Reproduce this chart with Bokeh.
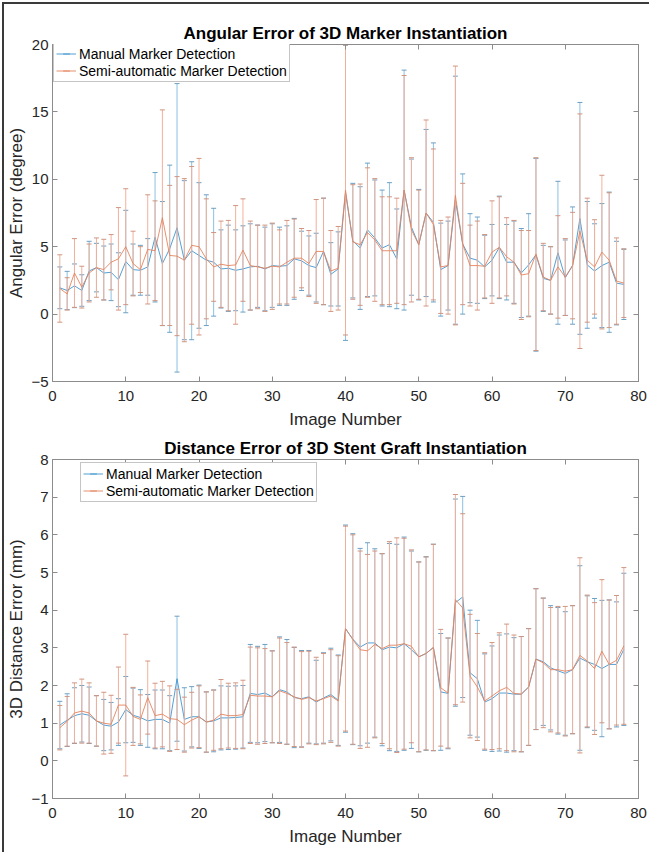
import math
from bokeh.plotting import figure
from bokeh.models import (ColumnDataSource, Range1d, FixedTicker, LinearAxis,
                          Legend, LegendItem)
from bokeh.layouts import column
from bokeh.embed import file_html
from bokeh.resources import INLINE

# ---- data -----------------------------------------------------------------
image_number = list(range(1, 79))

angular_manual_mean = [
    1.95, 1.75, 2.1, 1.75, 3.2, 3.45, 3.05, 3.1, 2.55, 3.9,
    3.3, 3.25, 3.5, 5.7, 3.75, 4.85, 6.4, 4.0, 4.7, 4.35,
    4.0, 3.85, 3.35, 3.4, 3.25, 3.35, 3.5, 3.55, 3.35, 3.6,
    3.55, 3.6, 4.1, 3.95, 3.6, 3.45, 4.65, 2.95, 3.35, 9.0,
    5.45, 4.9, 6.25, 5.65, 4.9, 5.15, 4.1, 9.2, 6.45, 5.15,
    7.5, 6.8, 3.3, 3.6, 8.45, 5.2, 4.15, 4.0, 3.5, 4.0,
    4.95, 3.85, 3.85, 3.05, 3.65, 4.4, 2.65, 2.5, 4.55, 2.7,
    3.6, 7.1, 3.65, 3.2, 3.6, 3.85, 2.3, 2.2]
angular_manual_std = [
    1.55, 1.42, 1.62, 1.17, 2.2, 1.8, 2.0, 2.1, 2.0, 3.8,
    1.9, 1.85, 2.1, 4.8, 4.6, 6.2, 10.7, 5.9, 6.6, 5.4,
    4.85, 4.0, 2.9, 3.2, 3.0, 3.2, 3.2, 3.05, 3.1, 3.1,
    2.9, 2.95, 3.0, 2.2, 2.2, 2.55, 3.95, 2.35, 2.75, 10.95,
    4.25, 4.55, 4.95, 4.3, 4.3, 4.6, 3.7, 8.9, 5.05, 4.1,
    6.2, 5.9, 3.45, 3.3, 9.2, 5.2, 3.3, 3.2, 2.35, 2.65,
    3.8, 2.8, 3.05, 3.3, 3.8, 7.15, 2.45, 2.5, 5.3, 2.8,
    4.35, 8.6, 4.7, 3.5, 4.6, 5.2, 3.1, 2.6]
angular_semi_mean = [
    1.9, 1.5, 3.05, 2.0, 3.05, 3.45, 3.3, 3.85, 4.1, 5.0,
    3.75, 3.3, 4.8, 4.7, 7.15, 4.35, 4.3, 4.0, 5.1, 5.0,
    4.1, 3.5, 3.7, 3.6, 3.65, 4.75, 3.6, 3.5, 3.4, 3.55,
    3.5, 3.85, 4.15, 4.15, 3.75, 4.65, 4.65, 3.2, 3.4, 9.2,
    5.35, 5.15, 6.05, 5.5, 4.7, 4.7, 4.7, 9.2, 6.25, 5.15,
    7.5, 6.65, 3.5, 3.6, 8.8, 5.2, 3.6, 3.6, 3.55, 4.6,
    4.95, 4.25, 3.85, 2.9, 3.0, 4.45, 2.75, 2.5, 3.5, 2.75,
    3.6, 6.15, 4.0, 3.5, 4.6, 4.0, 2.45, 2.3]
angular_semi_std = [
    2.5, 1.2, 2.55, 1.55, 2.15, 2.2, 2.25, 2.05, 3.8, 4.3,
    2.4, 1.7, 4.05, 3.7, 8.0, 5.2, 5.9, 6.05, 5.85, 6.55,
    4.45, 2.55, 3.2, 3.35, 4.4, 3.8, 3.3, 3.1, 3.2, 3.2,
    2.75, 3.1, 2.9, 2.2, 2.45, 3.85, 3.95, 3.0, 3.1, 10.75,
    4.25, 4.5, 4.8, 4.55, 4.0, 4.0, 3.9, 8.5, 5.35, 4.05,
    6.9, 5.6, 3.45, 3.6, 9.6, 4.5, 3.0, 3.3, 2.35, 3.8,
    3.75, 2.9, 3.1, 3.3, 3.2, 7.15, 2.5, 2.5, 3.8, 2.85,
    3.95, 8.7, 4.6, 3.5, 5.7, 5.0, 3.2, 2.55]

distance_manual_mean = [
    0.95, 1.08, 1.2, 1.25, 1.21, 1.06, 0.95, 0.92, 1.03, 1.36,
    1.21, 1.15, 1.06, 1.1, 1.1, 1.0, 2.18, 1.1, 1.17, 1.17,
    1.03, 1.06, 1.14, 1.14, 1.15, 1.17, 1.79, 1.76, 1.8, 1.7,
    1.89, 1.83, 1.68, 1.65, 1.7, 1.56, 1.67, 1.76, 1.61, 3.51,
    3.23, 3.02, 3.13, 3.13, 2.95, 3.02, 3.0, 3.11, 2.95, 2.76,
    2.85, 3.01, 1.83, 1.79, 4.2, 4.35, 2.34, 2.18, 1.56, 1.65,
    1.8, 1.8, 1.77, 1.77, 1.96, 2.7, 2.63, 2.47, 2.39, 2.32,
    2.42, 2.73, 2.63, 2.56, 2.45, 2.56, 2.56, 2.96]
distance_manual_std = [
    0.63, 0.7, 0.74, 0.75, 0.75, 0.67, 0.68, 0.63, 0.62, 0.88,
    0.72, 0.74, 0.7, 0.78, 0.78, 0.73, 1.66, 0.84, 0.8, 0.84,
    0.8, 0.82, 0.85, 0.84, 0.84, 0.83, 1.3, 1.28, 1.29, 1.22,
    1.4, 1.39, 1.33, 1.28, 1.23, 1.11, 1.2, 1.23, 1.2, 2.75,
    2.8, 2.62, 2.66, 2.5, 2.55, 2.75, 2.75, 2.83, 2.62, 2.52,
    2.57, 2.74, 1.55, 1.47, 2.75, 2.67, 1.66, 1.55, 1.28, 1.4,
    1.54, 1.57, 1.5, 1.53, 1.55, 1.87, 1.69, 1.65, 1.68, 1.64,
    1.7, 2.45, 1.75, 1.75, 1.81, 1.71, 1.66, 2.02]
distance_semi_mean = [
    0.88, 1.05, 1.27, 1.32, 1.27, 1.06, 1.0, 0.97, 1.48, 1.48,
    1.18, 1.1, 1.68, 1.2, 1.24, 1.12, 1.1, 0.96, 1.08, 1.17,
    1.03, 1.08, 1.24, 1.2, 1.2, 1.23, 1.74, 1.72, 1.72, 1.7,
    1.86, 1.79, 1.7, 1.63, 1.68, 1.59, 1.65, 1.72, 1.59, 3.51,
    3.22, 2.95, 2.92, 3.09, 2.98, 3.07, 3.07, 3.11, 3.04, 2.76,
    2.85, 3.01, 1.94, 1.8, 4.28, 4.06, 2.25, 1.96, 1.59, 1.72,
    1.86, 1.95, 1.79, 1.77, 1.96, 2.7, 2.6, 2.42, 2.42, 2.38,
    2.42, 2.8, 2.65, 2.45, 2.91, 2.56, 2.67, 3.05]
distance_semi_std = [
    0.59, 0.66, 0.8, 0.85, 0.8, 0.67, 0.82, 0.77, 1.01, 1.88,
    0.77, 0.65, 0.97, 0.86, 0.87, 0.87, 0.8, 0.73, 0.74, 0.82,
    0.8, 0.8, 0.92, 0.86, 0.87, 0.91, 1.28, 1.28, 1.26, 1.22,
    1.4, 1.35, 1.32, 1.27, 1.23, 1.16, 1.2, 1.23, 1.2, 2.72,
    2.78, 2.62, 2.56, 2.48, 2.52, 2.75, 2.85, 2.8, 2.56, 2.52,
    2.56, 2.74, 1.55, 1.46, 2.79, 2.5, 1.64, 1.42, 1.28, 1.42,
    1.54, 1.68, 1.55, 1.53, 1.55, 1.87, 1.72, 1.65, 1.68, 1.72,
    1.7, 2.59, 1.75, 1.75, 1.9, 1.71, 1.72, 2.08]

series_labels = ["Manual Marker Detection", "Semi-automatic Marker Detection"]
x_ticks = [0, 10, 20, 30, 40, 50, 60, 70, 80]
angular_ticks = [-5, 0, 5, 10, 15, 20]
distance_ticks = [-1, 0, 1, 2, 3, 4, 5, 6, 7, 8]

# ---- styling --------------------------------------------------------------
# (bar colour, cap colour, mean-line colour) for each series
BLUE = ("#8cc0e2", "#6d9fc2", "#3f95cf")
ORANGE = ("#f2b09a", "#cf9581", "#e3835f")
FONT = "Liberation Sans"
AXIS_GRAY = "#8c8c8c"
TEXT = "#262626"
WIDTH = 645


def style_axis(ax, ticks, show_labels=True):
    ax.ticker = FixedTicker(ticks=ticks)
    ax.major_tick_in = 5
    ax.major_tick_out = 0
    ax.minor_tick_line_color = None
    ax.axis_line_color = AXIS_GRAY
    ax.major_tick_line_color = AXIS_GRAY
    ax.major_label_text_font = FONT
    ax.major_label_text_color = TEXT
    ax.axis_label_text_font = FONT
    ax.axis_label_text_font_style = "normal"
    ax.axis_label_text_color = TEXT
    ax.axis_label_text_font_size = "17px"
    if show_labels:
        ax.major_label_text_font_size = "15px"
    else:
        ax.major_label_text_font_size = "1px"
        ax.major_label_text_color = None
        ax.major_label_standoff = 0


def errorbar_series(p, x, mean, std, colors):
    bar_c, cap_c, line_c = colors
    upper = [m + s for m, s in zip(mean, std)]
    lower = [m - s for m, s in zip(mean, std)]
    src = ColumnDataSource(dict(x=x, mean=mean, upper=upper, lower=lower))
    p.segment(x0="x", y0="lower", x1="x", y1="upper", source=src,
              line_color=bar_c, line_width=1)
    p.scatter(x="x", y="upper", source=src, marker="dash", size=5,
              line_color=cap_c, line_width=1)
    p.scatter(x="x", y="lower", source=src, marker="dash", size=5,
              line_color=cap_c, line_width=1)
    line = p.line(x="x", y="mean", source=src, line_color=line_c,
                  line_width=0.9)
    # vertical stroke shown only as the legend symbol (never drawn in the plot)
    key = p.scatter(x=[float("nan")], y=[float("nan")], marker="dash",
                    angle=math.pi / 2, size=13, line_color=line_c,
                    line_width=0.9)
    return [line, key]


def make_panel(title, ylabel, yr, yticks, series, height,
               border_top, border_bottom, legend_xy):
    p = figure(width=WIDTH, height=height, output_backend="svg",
               toolbar_location=None,
               x_range=Range1d(0, 80), y_range=Range1d(*yr),
               min_border_left=48, min_border_right=11,
               min_border_top=border_top, min_border_bottom=border_bottom)
    p.grid.visible = False
    p.outline_line_color = AXIS_GRAY
    p.background_fill_color = "white"
    p.border_fill_color = "white"

    p.title.text = title
    p.title.align = "center"
    p.title.text_font = FONT
    p.title.text_font_size = "17px"
    p.title.text_font_style = "bold"
    p.title.text_color = "black"
    p.title.standoff = 4

    style_axis(p.xaxis[0], x_ticks)
    p.xaxis[0].axis_label = "Image Number"
    p.xaxis[0].major_label_standoff = 9
    p.xaxis[0].axis_label_standoff = 6
    style_axis(p.yaxis[0], yticks)
    p.yaxis[0].axis_label = ylabel
    p.yaxis[0].major_label_standoff = 4
    p.yaxis[0].axis_label_standoff = 2

    top_ax = LinearAxis()
    style_axis(top_ax, x_ticks, show_labels=False)
    p.add_layout(top_ax, "above")
    right_ax = LinearAxis()
    style_axis(right_ax, yticks, show_labels=False)
    p.add_layout(right_ax, "right")

    items = []
    for label, (mean, std), colors in zip(series_labels, series, [BLUE, ORANGE]):
        rs = errorbar_series(p, image_number, mean, std, colors)
        items.append(LegendItem(label=label, renderers=rs))

    legend = Legend(items=items, location=legend_xy)
    legend.label_text_font = FONT
    legend.label_text_font_size = "14px"
    legend.label_text_color = "black"
    legend.border_line_color = AXIS_GRAY
    legend.border_line_width = 1
    legend.background_fill_color = "white"
    legend.background_fill_alpha = 1
    legend.padding = 2
    legend.spacing = 0
    legend.margin = 0
    legend.glyph_width = 20
    legend.glyph_height = 17
    legend.label_height = 17
    legend.label_standoff = 3
    p.add_layout(legend)
    return p


top = make_panel("Angular Error of 3D Marker Instantiation",
                 "Angular Error (degree)", (-5, 20), angular_ticks,
                 [(angular_manual_mean, angular_manual_std),
                  (angular_semi_mean, angular_semi_std)],
                 height=430, border_top=40, border_bottom=53,
                 legend_xy=(1, 299))

bottom = make_panel("Distance Error of 3D Stent Graft Instantiation",
                    "3D Distance Error (mm)", (-1, 8), distance_ticks,
                    [(distance_manual_mean, distance_manual_std),
                     (distance_semi_mean, distance_semi_std)],
                    height=418, border_top=25, border_bottom=54,
                    legend_xy=(28, 296))

page = column(top, bottom, spacing=0,
              styles={"border-top": "2px solid #3a3a3a",
                      "border-left": "2px solid #3a3a3a",
                      "margin-top": "2px", "margin-left": "2px"})

open("out.html", "w").write(file_html(page, INLINE))
